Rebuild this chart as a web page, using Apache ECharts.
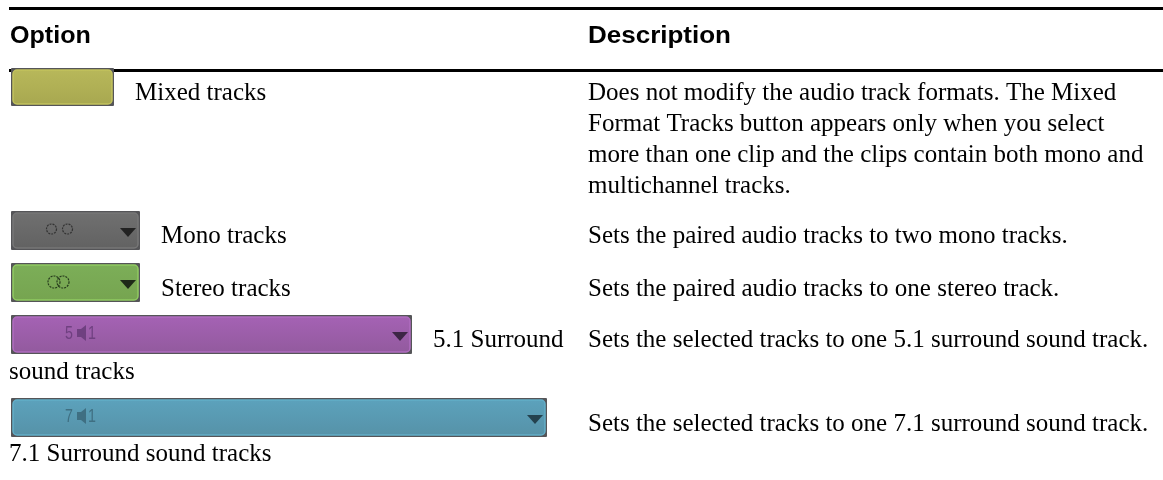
<!DOCTYPE html>
<html>
<head>
<meta charset="utf-8">
<style>html,body{margin:0;padding:0;background:#fff}#main{width:1163px;height:480px}</style>
<script src="https://cdn.jsdelivr.net/npm/echarts@6/dist/echarts.min.js"></script>
</head>
<body>
<div id="main"></div>
<script>
var headers = ['Option', 'Description'];
var optionLabels = ['Mixed tracks', 'Mono tracks', 'Stereo tracks', '5.1 Surround', 'sound tracks', '7.1 Surround sound tracks'];
var descriptionLines = [
    'Does not modify the audio track formats. The Mixed',
    'Format Tracks button appears only when you select',
    'more than one clip and the clips contain both mono and',
    'multichannel tracks.',
    'Sets the paired audio tracks to two mono tracks.',
    'Sets the paired audio tracks to one stereo track.',
    'Sets the selected tracks to one 5.1 surround sound track.',
    'Sets the selected tracks to one 7.1 surround sound track.'
];

var chartDom = document.getElementById('main');
var myChart = echarts.init(chartDom);
var g = [];

var serif = '"Liberation Serif", serif';
var sans = '"Liberation Sans", sans-serif';

function text(str, x, y, font, size, color, weight, scaleX) {
    g.push({
        type: 'text', x: x, y: y, z: 5, scaleX: scaleX || 1,
        style: { text: str, font: (weight || 'normal') + ' ' + size + 'px ' + font, fill: color || '#000', verticalAlign: 'middle' }
    });
}
function rule(y) {
    g.push({ type: 'rect', shape: { x: 9, y: y, width: 1154, height: 3 }, style: { fill: '#000' }, z: 1 });
}
function button(x, y, w, h, top, bottom, rim, dark, arrow) {
    g.push({ type: 'rect', z: 2, shape: { x: x, y: y, width: w, height: h, r: 1 }, style: { fill: '#555558' } });
    g.push({
        type: 'rect', z: 3, shape: { x: x + 2, y: y + 2, width: w - 4, height: h - 4, r: 4 },
        style: {
            lineWidth: 1.5, stroke: rim,
            fill: new echarts.graphic.LinearGradient(0, 0, 0, 1, [{ offset: 0, color: top }, { offset: 1, color: bottom }])
        }
    });
    if (arrow) {
        var ax = x + w - 12, ay = y + 21;
        g.push({ type: 'polygon', z: 4, shape: { points: [[ax - 8, ay - 4], [ax + 8, ay - 4], [ax, ay + 5]] }, style: { fill: dark } });
    }
}
function rings(cx, cy, gap, r, color) {
    [cx - gap, cx + gap].forEach(function (c) {
        g.push({ type: 'circle', z: 4, shape: { cx: c, cy: cy, r: r }, style: { fill: 'none', stroke: color, lineWidth: 1.2, lineDash: [2, 1] } });
    });
}
function surround(digit, x, y, color) {
    text(digit, x + 54, y + 19, sans, 19, color, 'normal', 0.75);
    g.push({ type: 'polygon', z: 4, shape: { points: [[x + 66, y + 14], [x + 70, y + 14], [x + 75, y + 10], [x + 75, y + 26], [x + 70, y + 22], [x + 66, y + 22]] }, style: { fill: color } });
    text('1', x + 77, y + 19, sans, 19, color, 'normal', 0.75);
}

rule(7);
rule(69);
text(headers[0], 10, 37, sans, 23, '#000', 'bold', 1.09);
text(headers[1], 588, 37, sans, 23, '#000', 'bold', 1.13);

button(11, 68, 103, 38, '#b8b85a', '#a8a850', '#c2c25c', '#333', false);
button(11, 211, 129, 39, '#707070', '#626262', '#777777', '#222', true);
rings(59.5, 229, 8, 5, '#333333');
button(11, 263, 129, 39, '#7cae58', '#76a450', '#90ca60', '#1e2a18', true);
rings(58.5, 282, 4.5, 6, '#263a1c');
button(11, 315, 401, 39, '#a562b4', '#925a9e', '#b06cc0', '#3c2544', true);
surround('5', 11, 315, '#6f4080');
button(11, 398, 536, 39, '#5ca2bc', '#5692a8', '#62aec8', '#24424e', true);
surround('7', 11, 398, '#3f6f82');

var labelPos = [[135, 93], [161, 236], [161, 289], [433, 340], [9, 372], [9, 454]];
optionLabels.forEach(function (s, i) {
    text(s, labelPos[i][0], labelPos[i][1], serif, 25);
});

var descY = [93, 124, 155, 186, 236, 289, 340, 424];
descriptionLines.forEach(function (s, i) {
    text(s, 588, descY[i], serif, 25);
});

var option = { animation: false, graphic: { elements: g } };
option && myChart.setOption(option);
</script>
</body>
</html>
